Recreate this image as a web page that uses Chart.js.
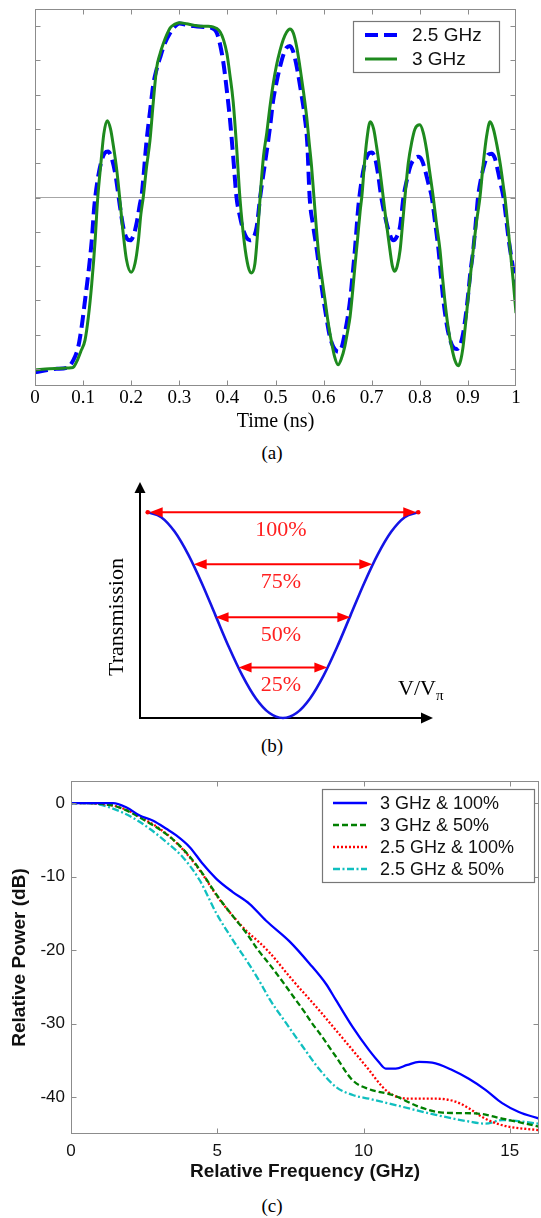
<!DOCTYPE html>
<html><head><meta charset="utf-8">
<script src="https://cdn.jsdelivr.net/npm/chart.js@4/dist/chart.umd.min.js"></script>
<style>
html,body{margin:0;padding:0;background:#fff;}
body{width:541px;height:1218px;position:relative;overflow:hidden;}
canvas{position:absolute;left:0;}
.cap{position:absolute;left:0;width:544px;text-align:center;font-family:"Liberation Serif","Times New Roman",serif;font-size:19px;line-height:20px;color:#000;}
</style></head><body>
<div class="cap" style="top:443px">(a)</div>
<div class="cap" style="top:736px">(b)</div>
<div class="cap" style="top:1196px">(c)</div>
<canvas id="ca" width="541" height="440" style="top:0;width:541px;height:440px"></canvas>
<canvas id="cb" width="541" height="270" style="top:470px;width:541px;height:270px"></canvas>
<canvas id="cc" width="541" height="430" style="top:760px;width:541px;height:430px"></canvas>
<script>
// ---------- Panel (a) data ----------
const timeTicks = [0,0.1,0.2,0.3,0.4,0.5,0.6,0.7,0.8,0.9,1];
const timeLabels = ['0','0.1','0.2','0.3','0.4','0.5','0.6','0.7','0.8','0.9','1'];
const ampTicks = [-5,-4,-3,-2,-1,0,1,2,3,4,5];

const t25 = [0,0.02,0.045,0.066,0.08,0.09,0.097,0.104,0.111,0.118,0.123,0.13,0.138,0.145,0.152,0.16,0.168,0.176,0.184,0.191,0.198,0.205,0.212,0.218,0.222,0.232,0.239,0.246,0.253,0.26,0.27,0.281,0.29,0.3,0.315,0.33,0.345,0.36,0.37,0.378,0.385,0.392,0.399,0.405,0.412,0.419,0.426,0.433,0.44,0.447,0.454,0.461,0.468,0.475,0.482,0.489,0.495,0.502,0.509,0.516,0.523,0.53,0.537,0.543,0.547,0.554,0.561,0.566,0.571,0.578,0.586,0.593,0.6,0.607,0.613,0.62,0.627,0.632,0.638,0.644,0.65,0.655,0.66,0.665,0.672,0.678,0.685,0.692,0.7,0.707,0.713,0.72,0.727,0.735,0.745,0.752,0.759,0.766,0.773,0.78,0.788,0.797,0.804,0.81,0.818,0.825,0.832,0.839,0.844,0.849,0.856,0.863,0.87,0.877,0.884,0.89,0.895,0.9,0.905,0.911,0.916,0.921,0.928,0.935,0.942,0.949,0.956,0.962,0.968,0.974,0.985,0.992,1.0];
const v25 = [-5.1,-5.05,-5.0,-4.97,-4.74,-4.35,-3.77,-3.0,-2.2,-1.25,-0.3,0.5,1.05,1.3,1.34,1.12,0.6,-0.2,-0.9,-1.2,-1.25,-1.1,-0.7,-0.2,0.1,1.66,2.5,3.3,3.75,4.08,4.5,4.8,4.98,5.08,5.04,5.0,4.98,4.97,4.93,4.8,4.45,3.9,3.1,2.33,1.2,0.0,-0.55,-0.95,-1.18,-1.25,-1.18,-0.85,0.0,0.7,1.37,2.1,2.82,3.35,3.79,4.15,4.37,4.42,4.25,3.9,3.6,3.0,2.33,1.6,0.0,-0.8,-1.54,-2.3,-3.0,-3.6,-4.06,-4.35,-4.48,-4.5,-4.35,-3.97,-3.5,-3.0,-2.3,-1.54,-0.3,0.4,0.95,1.25,1.31,1.15,0.7,0.0,-0.5,-0.96,-1.25,-1.15,-0.84,0.0,0.5,0.9,1.12,1.19,1.1,0.85,0.4,0.0,-0.75,-1.54,-2.3,-3.0,-3.7,-4.16,-4.38,-4.42,-4.3,-3.97,-3.5,-2.9,-2.2,-1.54,-0.8,0.0,0.6,1.0,1.25,1.28,1.15,0.8,0.4,0.0,-1.25,-1.9,-2.6];

const t3 = [0,0.03,0.06,0.075,0.08,0.088,0.095,0.104,0.111,0.118,0.125,0.13,0.137,0.143,0.15,0.157,0.163,0.17,0.176,0.183,0.19,0.2,0.208,0.215,0.22,0.225,0.232,0.239,0.246,0.253,0.26,0.267,0.274,0.281,0.29,0.3,0.315,0.33,0.345,0.36,0.37,0.378,0.385,0.392,0.399,0.405,0.412,0.419,0.426,0.435,0.443,0.45,0.457,0.463,0.468,0.475,0.482,0.488,0.495,0.502,0.509,0.516,0.523,0.53,0.537,0.544,0.551,0.558,0.565,0.57,0.575,0.58,0.589,0.596,0.603,0.61,0.617,0.623,0.63,0.637,0.644,0.65,0.655,0.66,0.665,0.67,0.676,0.68,0.685,0.69,0.697,0.704,0.71,0.717,0.724,0.731,0.738,0.743,0.748,0.753,0.759,0.764,0.769,0.776,0.783,0.79,0.8,0.807,0.814,0.82,0.828,0.835,0.842,0.847,0.852,0.859,0.866,0.873,0.88,0.885,0.89,0.895,0.9,0.905,0.911,0.918,0.925,0.932,0.939,0.946,0.953,0.96,0.967,0.974,0.977,0.988,0.994,1.0];
const v3 = [-5.03,-5.0,-4.98,-4.97,-4.95,-4.75,-4.5,-4.16,-3.48,-2.51,-1.25,-0.09,1.0,1.85,2.24,2.0,1.5,0.8,0.0,-1.0,-1.8,-2.18,-1.92,-1.25,-0.5,0.0,0.9,1.66,2.8,3.79,4.2,4.5,4.75,4.95,5.05,5.1,5.07,5.03,5.0,5.0,4.98,4.93,4.83,4.6,4.2,3.6,2.8,1.5,0.0,-1.3,-2.0,-2.2,-1.95,-1.0,0.0,1.2,1.9,2.6,3.3,3.85,4.27,4.6,4.82,4.92,4.8,4.4,3.79,3.1,2.33,1.6,0.9,0.0,-1.54,-2.3,-3.0,-3.7,-4.25,-4.65,-4.88,-4.7,-4.35,-3.9,-3.48,-2.8,-2.03,-1.3,-0.4,0.1,1.0,1.7,2.21,2.0,1.5,0.8,0.0,-0.8,-1.54,-2.0,-2.15,-2.0,-1.54,-0.8,0.0,1.0,1.6,2.0,2.12,1.9,1.4,0.8,0.0,-0.8,-1.54,-2.3,-3.0,-3.8,-4.35,-4.75,-4.91,-4.75,-4.35,-3.7,-3.0,-2.3,-1.54,-0.7,0.0,1.0,1.8,2.21,2.0,1.55,1.0,0.3,0.0,-1.54,-2.4,-3.37];

// ---------- Panel (b) data ----------
const bV = [-1,-0.9,-0.8,-0.7,-0.6,-0.5,-0.4,-0.3,-0.2,-0.1,0,0.1,0.2,0.3,0.4,0.5,0.6,0.7,0.8,0.9,1];
const bT = [1.0,0.976,0.905,0.794,0.655,0.5,0.345,0.206,0.095,0.024,0,0.024,0.095,0.206,0.345,0.5,0.655,0.794,0.905,0.976,1.0];
const levelPct = [100,75,50,25];
const levelT = [1.0,0.747,0.49,0.246];
const levelV = [1.0,0.675,0.513,0.343];

// ---------- Panel (c) data ----------
const freqTicks = [0,5,10,15];
const powerTicks = [-40,-30,-20,-10,0];

const fBlue = [0,0.5,1.0,1.44,1.9,2.35,2.81,3.26,3.6,4.06,4.51,4.97,5.53,6.1,6.67,7.47,8.15,8.72,9.06,9.62,10.19,10.5,10.76,11.1,11.5,11.9,12.35,13.03,13.6,14.17,14.74,15.31,16];
const pBlue = [0,0,0,0,-0.6,-1.7,-2.4,-3.5,-4.4,-6.0,-8.3,-10.3,-12.1,-13.7,-16.0,-18.8,-21.8,-24.6,-26.8,-30.4,-33.6,-35.1,-36.1,-36.1,-35.6,-35.2,-35.3,-36.3,-37.5,-39.0,-40.8,-42.0,-42.9];

const fGreen = [0,0.5,1.0,1.5,2.0,2.5,3.0,3.5,4.0,4.5,5.0,5.5,6.0,6.4,6.8,7.2,7.6,8.0,8.25,8.5,9.06,9.63,10.19,11.0,11.9,12.7,13.83,14.74,16];
const pGreen = [0,0,-0.1,-0.4,-1.2,-2.3,-3.5,-5.0,-7.0,-9.6,-12.6,-15.2,-17.7,-20.0,-22.0,-24.1,-26.3,-28.5,-30.0,-31.3,-34.5,-37.7,-38.9,-39.7,-41.3,-42.1,-42.2,-42.9,-44.0];

const fRed = [0,0.5,1.0,1.5,2.0,2.5,3.0,3.5,4.0,4.5,5.0,5.5,6.0,6.4,6.78,7.58,8.49,9.06,9.63,10.19,10.65,11.0,11.56,12.47,13.15,13.6,14.06,14.74,16];
const pRed = [0,0,-0.1,-0.4,-1.1,-2.2,-3.4,-5.0,-7.1,-9.7,-12.7,-15.2,-17.4,-18.8,-20.3,-24.1,-28.2,-30.9,-33.6,-36.3,-38.6,-39.7,-40.2,-40.2,-40.6,-41.5,-42.7,-43.8,-44.5];

const fCyan = [0,0.5,0.85,1.33,2.12,2.69,3.26,3.83,4.4,4.97,5.53,6.1,6.5,6.78,7.35,7.92,8.49,9.06,9.63,10.19,11.33,12.47,13.6,14.17,14.74,16];
const pCyan = [0,0,-0.1,-0.6,-2.0,-3.5,-5.3,-7.4,-10.5,-15.0,-18.6,-22.0,-24.6,-26.6,-29.9,-33.1,-36.2,-38.6,-39.7,-40.2,-41.3,-42.4,-43.3,-43.6,-43.1,-43.6];

// ---------- helpers / plugins ----------
const pts = (xs, ys) => xs.map((v, i) => ({x: v, y: ys[i]}));
const SERIF = '"Liberation Serif", "Times New Roman", serif';
const SANS = '"Liberation Sans", Arial, sans-serif';

const boxTicks = {
  id: 'boxTicks',
  afterDraw(chart, args, o) {
    const {ctx, chartArea: a, scales: {x, y}} = chart;
    ctx.save();
    ctx.strokeStyle = o.color; ctx.lineWidth = 1;
    const L = Math.round(a.left) + 0.5, R = Math.round(a.right) - 0.5;
    const T = Math.round(a.top) + 0.5, B = Math.round(a.bottom) - 0.5;
    ctx.beginPath();
    x.ticks.forEach(t => {
      const px = Math.round(x.getPixelForValue(t.value)) + 0.5;
      if (px <= L + 1 || px >= R - 1) return;
      ctx.moveTo(px, B); ctx.lineTo(px, B - o.len);
      ctx.moveTo(px, T); ctx.lineTo(px, T + o.len);
    });
    y.ticks.forEach(t => {
      const py = Math.round(y.getPixelForValue(t.value)) + 0.5;
      if (py <= T + 1 || py >= B - 1) return;
      ctx.moveTo(L, py); ctx.lineTo(L + o.len, py);
      ctx.moveTo(R, py); ctx.lineTo(R - o.len, py);
    });
    ctx.stroke();
    ctx.strokeRect(L, T, R - L, B - T);
    ctx.restore();
  }
};

const boxLegend = {
  id: 'boxLegend',
  afterDraw(chart, args, o) {
    const {ctx, chartArea: a} = chart;
    ctx.save();
    const x0 = Math.round(a.right - o.right - o.width), y0 = Math.round(a.top + o.top);
    ctx.fillStyle = '#fff'; ctx.fillRect(x0, y0, o.width, o.height);
    ctx.strokeStyle = o.border; ctx.lineWidth = 1.2;
    ctx.strokeRect(x0 + 0.5, y0 + 0.5, o.width, o.height);
    ctx.font = o.font; ctx.textBaseline = 'middle'; ctx.textAlign = 'left';
    o.order.forEach((di, i) => {
      const ds = chart.data.datasets[di];
      const cy = y0 + o.firstRow + i * o.rowGap;
      ctx.beginPath();
      ctx.setLineDash(ds.borderDash || []);
      ctx.strokeStyle = ds.borderColor; ctx.lineWidth = ds.borderWidth; ctx.lineCap = 'butt';
      ctx.moveTo(x0 + o.lineX0, cy); ctx.lineTo(x0 + o.lineX1, cy); ctx.stroke();
      ctx.setLineDash([]);
      ctx.fillStyle = o.textColor;
      ctx.fillText(ds.label, x0 + o.textX, cy + 1);
    });
    ctx.restore();
  }
};

function arrowHead(ctx, tx, ty, dx, dy, len, half) {
  const bx = tx - dx * len, by = ty - dy * len, px = -dy, py = dx;
  ctx.beginPath();
  ctx.moveTo(tx, ty);
  ctx.lineTo(bx + px * half, by + py * half);
  ctx.lineTo(bx - px * half, by - py * half);
  ctx.closePath(); ctx.fill();
}

const schematic = {
  id: 'schematic',
  beforeDatasetsDraw(chart) {
    const {ctx, chartArea: a} = chart;
    ctx.save();
    ctx.strokeStyle = '#000'; ctx.fillStyle = '#000'; ctx.lineWidth = 2;
    ctx.beginPath();
    ctx.moveTo(a.left, a.bottom + 1); ctx.lineTo(a.left, a.top + 9);
    ctx.moveTo(a.left - 1, a.bottom); ctx.lineTo(a.right - 10, a.bottom);
    ctx.stroke();
    arrowHead(ctx, a.left, a.top, 0, -1, 11, 5.5);
    arrowHead(ctx, a.right, a.bottom, 1, 0, 12, 5.5);
    ctx.restore();
  },
  afterDatasetsDraw(chart) {
    const {ctx, chartArea: a, scales: {x, y}} = chart;
    ctx.save();
    const red = '#ff0000';
    levelPct.forEach((p, i) => {
      const yy = y.getPixelForValue(levelT[i]);
      const xl = x.getPixelForValue(-levelV[i]), xr = x.getPixelForValue(levelV[i]);
      ctx.strokeStyle = red; ctx.fillStyle = red; ctx.lineWidth = 2;
      ctx.beginPath(); ctx.moveTo(xl + 10, yy); ctx.lineTo(xr - 10, yy); ctx.stroke();
      arrowHead(ctx, xl + 2, yy, -1, 0, 13, 5);
      arrowHead(ctx, xr - 2, yy, 1, 0, 13, 5);
      if (i === 0) {
        ctx.beginPath(); ctx.arc(xl, yy, 2.3, 0, Math.PI * 2); ctx.fill();
        ctx.beginPath(); ctx.arc(xr, yy, 2.3, 0, Math.PI * 2); ctx.fill();
      }
      ctx.font = '22px ' + SERIF; ctx.textAlign = 'center'; ctx.textBaseline = 'middle';
      ctx.fillStyle = '#ff2020';
      ctx.fillText(p + '%', x.getPixelForValue(0) - 2, yy + 18);
    });
    ctx.fillStyle = '#000';
    ctx.font = '22px ' + SERIF;
    ctx.save();
    ctx.translate(a.left - 23, a.bottom - 101);
    ctx.rotate(-Math.PI / 2);
    ctx.textAlign = 'center'; ctx.textBaseline = 'middle';
    ctx.fillText('Transmission', 0, 0);
    ctx.restore();
    ctx.textAlign = 'left'; ctx.textBaseline = 'alphabetic';
    const vx = a.right - 35, vy = a.bottom - 23;
    ctx.fillText('V/V', vx, vy);
    const w = ctx.measureText('V/V').width;
    ctx.font = '15px ' + SERIF;
    ctx.fillText('π', vx + w, vy + 5);
    ctx.restore();
  }
};

// ---------- Chart (a) ----------
new Chart(document.getElementById('ca'), {
  type: 'scatter',
  data: {datasets: [
    {label: '2.5 GHz', data: pts(t25, v25), showLine: true, borderColor: '#0000ff', borderWidth: 4,
     borderDash: [13, 6], pointRadius: 0, cubicInterpolationMode: 'monotone', order: 1},
    {label: '3 GHz', data: pts(t3, v3), showLine: true, borderColor: '#1e8a1e', borderWidth: 3,
     pointRadius: 0, cubicInterpolationMode: 'monotone', order: 0}
  ]},
  options: {
    responsive: false, animation: false, events: [],
    layout: {padding: {left: 0, right: 25, top: 9, bottom: 0}},
    plugins: {
      legend: {display: false}, tooltip: {enabled: false},
      boxTicks: {color: '#8c8c8c', len: 5},
      boxLegend: {order: [0, 1], right: 17, top: 12, width: 146, height: 51, firstRow: 14, rowGap: 24,
                  lineX0: 12, lineX1: 44, textX: 59, font: '19px ' + SANS, border: '#777', textColor: '#111'}
    },
    scales: {
      x: {type: 'linear', min: 0, max: 1,
          afterBuildTicks: s => { s.ticks = timeTicks.map(v => ({value: v})); },
          ticks: {callback: (v, i) => timeLabels[i], font: {family: SERIF, size: 19}, color: '#000', padding: 1, maxRotation: 0, autoSkip: false},
          grid: {display: false, drawTicks: false}, border: {display: false},
          title: {display: true, text: 'Time (ns)', font: {family: SERIF, size: 20}, color: '#000', padding: {top: 0, bottom: 6}},
          afterFit: s => { s.height = 54; }},
      y: {type: 'linear', min: -5.5, max: 5.5,
          afterBuildTicks: s => { s.ticks = ampTicks.map(v => ({value: v})); },
          ticks: {display: false},
          grid: {drawTicks: false, lineWidth: 1, color: c => (c.tick && c.tick.value === 0) ? '#a6a6a6' : 'rgba(0,0,0,0)'},
          border: {display: false},
          afterFit: s => { s.width = 35; }}
    }
  },
  plugins: [boxTicks, boxLegend]
});

// ---------- Chart (b) ----------
new Chart(document.getElementById('cb'), {
  type: 'scatter',
  data: {datasets: [
    {label: 'Transmission', data: pts(bV, bT), showLine: true, borderColor: '#1414e6', borderWidth: 2.6,
     pointRadius: 0, cubicInterpolationMode: 'monotone', clip: 8}
  ]},
  options: {
    responsive: false, animation: false, events: [],
    layout: {padding: {left: 140, right: 108, top: 12, bottom: 22}},
    plugins: {legend: {display: false}, tooltip: {enabled: false}},
    scales: {
      x: {type: 'linear', min: -1.057, max: 1.109, display: false},
      y: {type: 'linear', min: 0, max: 1.147, display: false}
    }
  },
  plugins: [schematic]
});

// ---------- Chart (c) ----------
new Chart(document.getElementById('cc'), {
  type: 'scatter',
  data: {datasets: [
    {label: '3 GHz & 100%', data: pts(fBlue, pBlue), showLine: true, borderColor: '#0000ff', borderWidth: 2.3,
     pointRadius: 0, cubicInterpolationMode: 'monotone'},
    {label: '3 GHz & 50%', data: pts(fGreen, pGreen), showLine: true, borderColor: '#007f00', borderWidth: 2.3,
     borderDash: [6, 3], pointRadius: 0, cubicInterpolationMode: 'monotone'},
    {label: '2.5 GHz & 100%', data: pts(fRed, pRed), showLine: true, borderColor: '#ff0000', borderWidth: 2.3,
     borderDash: [2, 2], pointRadius: 0, cubicInterpolationMode: 'monotone'},
    {label: '2.5 GHz & 50%', data: pts(fCyan, pCyan), showLine: true, borderColor: '#10bfbf', borderWidth: 2.3,
     borderDash: [7, 2.5, 2, 2.5], pointRadius: 0, cubicInterpolationMode: 'monotone'}
  ]},
  options: {
    responsive: false, animation: false, events: [],
    layout: {padding: {left: 0, right: 2, top: 21, bottom: 0}},
    plugins: {
      legend: {display: false}, tooltip: {enabled: false},
      boxTicks: {color: '#8c8c8c', len: 5},
      boxLegend: {order: [0, 1, 2, 3], right: 5, top: 8, width: 212, height: 93, firstRow: 14, rowGap: 22,
                  lineX0: 11, lineX1: 45, textX: 58, font: '18px ' + SANS, border: '#777', textColor: '#111'}
    },
    scales: {
      x: {type: 'linear', min: 0, max: 16,
          afterBuildTicks: s => { s.ticks = freqTicks.map(v => ({value: v})); },
          ticks: {callback: v => String(v), font: {family: SANS, size: 17}, color: '#111', padding: 7, maxRotation: 0, autoSkip: false},
          grid: {display: false, drawTicks: false}, border: {display: false},
          title: {display: true, text: 'Relative Frequency (GHz)', font: {family: SANS, size: 19, weight: 'bold'}, color: '#111', padding: {top: 0, bottom: 7}},
          afterFit: s => { s.height = 56; }},
      y: {type: 'linear', min: -45, max: 3,
          afterBuildTicks: s => { s.ticks = powerTicks.map(v => ({value: v})); },
          ticks: {callback: v => String(v), font: {family: SANS, size: 17}, color: '#111', padding: 6, autoSkip: false},
          grid: {display: false, drawTicks: false}, border: {display: false},
          title: {display: true, text: 'Relative Power (dB)', font: {family: SANS, size: 19, weight: 'bold'}, color: '#111', padding: {top: 8, bottom: 0}},
          afterFit: s => { s.width = 71; }}
    }
  },
  plugins: [boxTicks, boxLegend]
});
</script>
</body></html>
